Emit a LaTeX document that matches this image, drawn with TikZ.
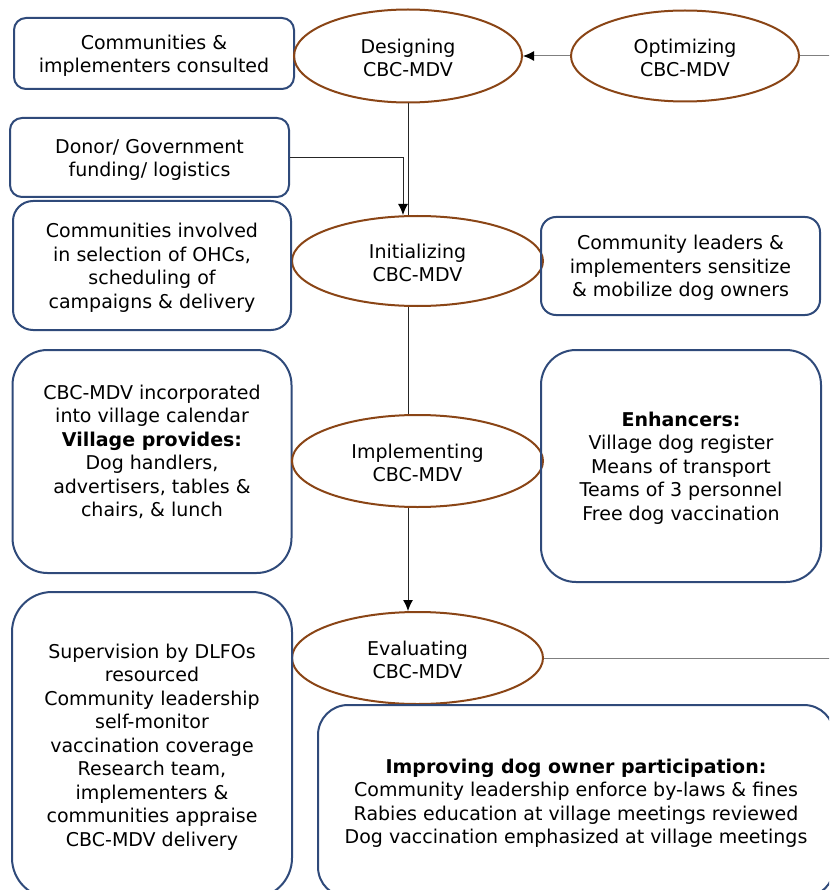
\documentclass[tikz,border=0pt]{standalone}
\usepackage{fontspec}
\setmainfont{DejaVu Sans}
\usetikzlibrary{shapes.geometric,arrows.meta,calc}
\definecolor{boxblue}{HTML}{2F4A7A}
\definecolor{ellbrown}{HTML}{8A4516}
\definecolor{lnk}{HTML}{7F7F7F}
\newcommand{\mystrut}{\rule{0pt}{18.5pt}}
\begin{document}
\begin{tikzpicture}[x=1pt,y=-1pt,
  txt/.style={font=\fontsize{19}{23.5}\selectfont, align=center},
  rbox/.style={draw=boxblue, line width=2pt, rounded corners=#1, inner sep=0pt, txt},
  rbox/.default=12pt,
  ell/.style={draw=ellbrown, line width=2pt, ellipse, inner sep=0pt, txt},
  conn/.style={draw=black!85, line width=1pt},
  arr/.style={conn, -{Latex[length=11pt,width=10pt,color=black]}}]
\useasboundingbox (0,0) rectangle (829,890);
\clip (0,0) rectangle (829,890);

\node[rbox, minimum width=280pt, minimum height=71pt] (cons) at (154,53.5) {\mystrut Communities \&\\implementers consulted};
\node[ell, minimum width=228pt, minimum height=93pt] (des) at (408,56) {\mystrut Designing\\CBC-MDV};
\node[ell, minimum width=228pt, minimum height=91pt] (opt) at (685,56) {\mystrut Optimizing\\CBC-MDV};
\node[rbox, minimum width=279pt, minimum height=79pt] (don) at (149.5,157.5) {\mystrut Donor/ Government\\funding/ logistics};
\node[ell, minimum width=251pt, minimum height=90pt] (ini) at (417.5,261) {\mystrut Initializing\\CBC-MDV};
\node[rbox=20pt, minimum width=278pt, minimum height=129pt] (inv) at (152,265.5) {\mystrut Communities involved\\in selection of OHCs,\\scheduling of\\campaigns \& delivery};
\node[rbox=15pt, minimum width=279pt, minimum height=98pt] (lead) at (680.5,266) {\mystrut Community leaders \&\\implementers sensitize\\\& mobilize dog owners};
\node[rbox=35pt, minimum width=279pt, minimum height=223pt] (cal) at (152,461.5) {};
\node[txt] (calt) at (152,450) {\mystrut CBC-MDV incorporated\\into village calendar\\\textbf{Village provides:}\\Dog handlers,\\advertisers, tables \&\\chairs, \& lunch};
\node[ell, minimum width=251pt, minimum height=92pt] (imp) at (417.5,461) {\mystrut Implementing\\CBC-MDV};
\node[rbox=35pt, minimum width=280pt, minimum height=232pt] (enh) at (681,466) {\mystrut\textbf{Enhancers:}\\Village dog register\\Means of transport\\Teams of 3 personnel\\Free dog vaccination};
\node[ell, minimum width=251pt, minimum height=92pt] (eva) at (417.5,658) {\mystrut Evaluating\\CBC-MDV};
\node[rbox=40pt, minimum width=280pt, minimum height=306pt] (sup) at (152,745) {\mystrut Supervision by DLFOs\\resourced\\Community leadership\\self-monitor\\vaccination coverage\\Research team,\\implementers \&\\communities appraise\\CBC-MDV delivery};
\node[rbox=30pt, minimum width=516pt, minimum height=192pt] (imprv) at (576,801) {\mystrut\textbf{Improving dog owner participation:}\\Community leadership enforce by-laws \& fines\\Rabies education at village meetings reviewed\\Dog vaccination emphasized at village meetings};

\coordinate (edgeT) at (840,56);
\coordinate (edgeE) at (840,658);

\draw[arr, draw=lnk] (opt.west) -- (des.east);
\draw[conn, draw=lnk] (opt.east) -- (edgeT);
\draw[conn] (des.south) -- (des.south |- ini.north);
\draw[arr] (don.east) -| ($(des.south |- ini.north)+(-5,0)$);
\draw[conn] (des.south |- ini.south) -- (des.south |- imp.north);
\draw[arr] (des.south |- imp.south) -- (des.south |- eva.north);
\draw[conn, draw=lnk] (eva.east) -- (edgeE);
\end{tikzpicture}
\end{document}
